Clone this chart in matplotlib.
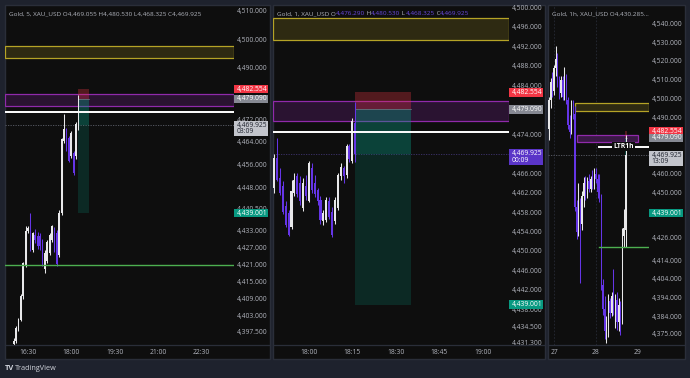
import matplotlib
matplotlib.use("Agg")
import matplotlib.pyplot as plt
import numpy as np
from matplotlib.patches import Rectangle
from matplotlib.lines import Line2D

plt.rcParams["font.family"] = ["Open Sans", "DejaVu Sans"]

W, H = 690, 378

# ---- 5 minute candles (minutes after 16:00) ----
m5_time = [0, 5, 10, 15, 20, 25, 30, 35, 40, 45, 50, 55, 60, 65,
           70, 75, 80, 85, 90, 95, 100, 105, 110, 115, 120, 125, 130, 135]
m5_open = [4392.9, 4394.0, 4398.0, 4401.6, 4409.8, 4420.9, 4432.7, 4433.2, 4426.2, 4431.5,
           4431.0, 4430.9, 4428.6, 4419.5, 4422.1, 4425.0, 4429.7, 4433.2, 4432.1, 4424.4,
           4439.1, 4464.3, 4468.5, 4465.5, 4459.1, 4460.2, 4459.1, 4469.055]
m5_high = [4395.0, 4399.5, 4402.1, 4410.5, 4422.0, 4434.4, 4434.5, 4439.1, 4432.5, 4433.5,
           4432.5, 4432.1, 4430.0, 4426.2, 4429.7, 4432.1, 4435.0, 4434.0, 4433.0, 4440.0,
           4465.5, 4473.7, 4469.0, 4466.0, 4468.0, 4461.0, 4471.0, 4480.53]
m5_low = [4392.5, 4393.5, 4397.5, 4401.0, 4409.0, 4420.0, 4432.0, 4425.8, 4425.5, 4428.5,
          4426.5, 4426.0, 4420.5, 4418.0, 4421.5, 4424.4, 4429.0, 4425.5, 4420.5, 4423.5,
          4438.5, 4463.5, 4461.0, 4457.0, 4458.5, 4452.5, 4458.0, 4468.325]
m5_close = [4394.0, 4398.6, 4401.5, 4409.8, 4421.5, 4432.7, 4433.8, 4426.2, 4432.1, 4429.7,
            4427.4, 4427.4, 4420.9, 4425.0, 4429.0, 4431.5, 4434.4, 4426.2, 4421.0, 4439.1,
            4464.9, 4468.5, 4461.4, 4457.3, 4467.3, 4453.2, 4470.2, 4469.925]

# ---- 1 minute candles (minutes after 17:48) ----
m1_time = list(range(29))
m1_open = [4462.9, 4469.0, 4465.0, 4463.3, 4459.2, 4457.8, 4455.0, 4461.9, 4465.3, 4464.0,
           4458.8, 4463.3, 4460.2, 4467.0, 4464.0, 4462.6, 4460.5, 4456.1, 4456.4, 4460.2,
           4458.1, 4456.1, 4458.8, 4465.3, 4467.0, 4465.5, 4471.5, 4468.4, 4476.29]
m1_high = [4470.0, 4473.2, 4467.0, 4464.3, 4460.2, 4458.5, 4464.5, 4466.0, 4466.0, 4465.3,
           4465.0, 4465.5, 4468.5, 4468.0, 4465.5, 4463.0, 4461.2, 4458.5, 4461.0, 4461.0,
           4459.0, 4461.0, 4466.0, 4468.0, 4467.5, 4472.0, 4472.0, 4477.2, 4480.53]
m1_low = [4462.0, 4464.3, 4461.5, 4457.5, 4455.0, 4453.0, 4454.5, 4461.2, 4461.0, 4459.5,
          4458.3, 4460.5, 4460.0, 4462.0, 4461.0, 4459.5, 4455.5, 4455.4, 4456.0, 4456.5,
          4452.8, 4455.5, 4458.5, 4464.5, 4464.0, 4465.0, 4468.3, 4468.0, 4468.325]
m1_close = [4469.1, 4464.6, 4462.0, 4458.1, 4455.4, 4453.3, 4462.25, 4464.6, 4461.6, 4460.2,
            4463.97, 4461.2, 4468.0, 4462.6, 4461.6, 4460.2, 4456.4, 4457.8, 4460.5, 4457.0,
            4453.3, 4460.5, 4465.7, 4467.3, 4465.3, 4471.5, 4468.8, 4476.66, 4469.925]

# ---- 1 hour candles (hours after 27th 00:00) ----
h1_time = list(range(-3, 42))
h1_open = [4484, 4499, 4509, 4504, 4516, 4521, 4508, 4503, 4510, 4501, 4512, 4499, 4486, 4482, 4496,
           4492, 4442, 4429, 4444, 4433, 4448, 4455, 4449, 4456, 4452, 4457, 4454, 4460, 4457, 4457,
           4447, 4401, 4388, 4376, 4383, 4392, 4386, 4395, 4388, 4393, 4381, 4390, 4385, 4427, 4430.285]
h1_high = [4501, 4511, 4514, 4518, 4528, 4524, 4512, 4512, 4512, 4517, 4513, 4501, 4491, 4499, 4499,
           4496, 4446, 4455, 4447, 4451, 4458, 4459, 4458, 4460, 4459, 4462, 4463, 4463, 4460, 4460,
           4449, 4404, 4395, 4384, 4396, 4394, 4397, 4409, 4396, 4397, 4394, 4392, 4431, 4441, 4480.53]
h1_low = [4478, 4495, 4501, 4502, 4512, 4506, 4500, 4501, 4499, 4499, 4497, 4484, 4479, 4481, 4489,
          4440, 4425, 4427, 4402, 4430, 4442, 4446, 4447, 4450, 4450, 4452, 4452, 4455, 4447, 4445,
          4398, 4385, 4372, 4369.7, 4373, 4383, 4384, 4385, 4378, 4377, 4376, 4374, 4380, 4421, 4421]
h1_close = [4499, 4509, 4504, 4516, 4521, 4508, 4503, 4510, 4501, 4512, 4499, 4486, 4482, 4496, 4492,
            4442, 4429, 4444, 4433, 4448, 4455, 4449, 4456, 4452, 4457, 4454, 4460, 4457, 4450, 4447,
            4401, 4388, 4376, 4380, 4392, 4386, 4395, 4388, 4393, 4381, 4390, 4385, 4427, 4431, 4469.925]

# ---- levels and labels ----
yellow_zone = (4493.4, 4497.8)
purple_zone = (4476.7, 4480.8)
ltr_level = 4474.4
support_level = 4420.8
stop_price = 4482.554
entry_price = 4479.090
last_price = 4469.925
target_price = 4439.001

m5_yticks = [4510, 4500, 4490, 4472, 4464, 4456, 4448, 4440.5, 4433, 4427, 4421, 4415, 4409, 4403, 4397.5]
m1_yticks = [4500, 4496, 4492, 4488, 4484, 4474, 4466, 4462, 4458, 4454, 4450, 4446, 4442, 4438, 4434.5, 4431.3]
h1_yticks = [4540, 4530, 4520, 4510, 4500, 4490, 4460, 4450, 4426, 4414, 4404, 4394, 4384, 4375]
m5_xticks, m5_xlabels = [30, 120, 210, 300, 390], ["16:30", "18:00", "19:30", "21:00", "22:30"]
m1_xticks, m1_xlabels = [12, 27, 42, 57, 72], ["18:00", "18:15", "18:30", "18:45", "19:00"]
h1_xticks, h1_xlabels = [0, 24, 48], ["27", "28", "29"]

BG = "#1e222d"
PANEL = "#0e0e0e"
BORDER = "#2a2e39"
TXT = "#b2b5be"
UP = "#e8e8ea"
DOWN = "#6535e6"
FS = 4.9

panels = [
    dict(panel=(5, 5, 270, 359), plot=(5, 5, 234, 345), ylim=(4392.7, 4512.1), xlim=(-17.8, 458.3),
         t=m5_time, o=m5_open, h=m5_high, l=m5_low, c=m5_close, step=5,
         yt=m5_yticks, xt=m5_xticks, xl=m5_xlabels, box=(134, 157), countdown="03:09",
         last_fc="#c3c5cc", last_tc="#1e222d", dot="#5d606b"),
    dict(panel=(273, 5, 545, 359), plot=(273, 5, 509, 345), ylim=(4430.7, 4500.5), xlim=(-0.4, 81.1),
         t=m1_time, o=m1_open, h=m1_high, l=m1_low, c=m1_close, step=1,
         yt=m1_yticks, xt=m1_xticks, xl=m1_xlabels, box=(28, 47.3), countdown="00:09",
         last_fc="#5a35c8", last_tc="#ffffff", dot="#3f3470"),
    dict(panel=(548, 5, 685, 359), plot=(548, 5, 649, 345), ylim=(4368.8, 4549.8), xlim=(-3.43, 54.3),
         t=h1_time, o=h1_open, h=h1_high, l=h1_low, c=h1_close, step=1,
         yt=h1_yticks, xt=h1_xticks, xl=h1_xlabels, box=(40.5, 41.6), countdown="13:09",
         last_fc="#c3c5cc", last_tc="#1e222d", dot="#5d606b"),
]


def fx(px):
    return px / W


def fy(py):
    return 1 - py / H


fig = plt.figure(figsize=(W / 100, H / 100), dpi=100, facecolor=BG)

for k, p in enumerate(panels):
    x0, y0, x1, y1 = p["panel"]
    px0, py0, px1, py1 = p["plot"]
    fig.add_artist(Rectangle((fx(x0), fy(y1)), (x1 - x0) / W, (y1 - y0) / H,
                             transform=fig.transFigure, fc=PANEL, ec=BORDER, lw=1.0, zorder=-1))
    ax = fig.add_axes([fx(px0), fy(py1), (px1 - px0) / W, (py1 - py0) / H])
    ax.patch.set_alpha(0)
    for s in ax.spines.values():
        s.set_visible(False)
    fig.add_artist(Line2D([fx(x0), fx(x1)], [fy(py1), fy(py1)], transform=fig.transFigure,
                          color=BORDER, lw=0.9, zorder=3))
    ax.set_xlim(*p["xlim"])
    ax.set_ylim(*p["ylim"])
    ymin, ymax = p["ylim"]
    ppu = (py1 - py0) / (ymax - ymin)
    pw = px1 - px0

    # zones and lines
    if k < 2:
        zx = p["xlim"]
        lx = p["xlim"]
        pz = p["xlim"]
    else:
        zx = (12, p["xlim"][1])
        pz = (13, 48.2)
        lx = (26, p["xlim"][1])
        for d in h1_xticks[:2]:
            ax.axvline(d, color="#262a35", lw=0.6, ls=(0, (2, 2)), zorder=0)
    ax.add_patch(Rectangle((zx[0], yellow_zone[0]), zx[1] - zx[0], yellow_zone[1] - yellow_zone[0],
                           fc="#2e2a12", ec="#b5a326", lw=0.9, zorder=1))
    pur_fc = "#2a1331" if k < 2 else "#3a1846"
    ax.add_patch(Rectangle((pz[0], purple_zone[0]), pz[1] - pz[0], purple_zone[1] - purple_zone[0],
                           fc=pur_fc, ec="#902aab", lw=0.9, zorder=1))
    ax.plot(lx, [ltr_level, ltr_level], color="white", lw=1.4, zorder=4)
    ax.plot(lx, [support_level, support_level], color="#4caf50", lw=1.0, zorder=4)
    ax.axhline(last_price, color=p["dot"], lw=0.6, ls=(0, (1.5, 1.5)), zorder=1)

    # position box
    bx0, bx1 = p["box"]
    ax.add_patch(Rectangle((bx0, entry_price), bx1 - bx0, stop_price - entry_price,
                           fc="#f23645", alpha=0.3, ec="none", zorder=2))
    ax.add_patch(Rectangle((bx0, last_price), bx1 - bx0, entry_price - last_price,
                           fc="#089981", alpha=0.38, ec="none", zorder=2))
    ax.add_patch(Rectangle((bx0, target_price), bx1 - bx0, last_price - target_price,
                           fc="#089981", alpha=0.2, ec="none", zorder=2))
    ax.plot([bx0, bx1], [entry_price, entry_price], color="#787b86", lw=0.5, zorder=2)

    # candles
    t = np.array(p["t"], dtype=float)
    o = np.array(p["o"])
    c = np.array(p["c"])
    up = c >= o
    cols = np.where(up, UP, DOWN)
    ax.vlines(t, p["l"], p["h"], colors=cols, lw=0.75, zorder=3)
    body = np.maximum(np.abs(c - o), 1.0 / ppu)
    ax.bar(t, body, bottom=np.minimum(o, c), width=0.72 * p["step"], color=cols, lw=0, zorder=3)

    # axes ticks
    ax.yaxis.tick_right()
    ax.set_yticks(p["yt"])
    ax.set_yticklabels([f"{v:,.3f}" for v in p["yt"]])
    ax.tick_params(axis="y", length=0, pad=2.0, labelsize=FS, labelcolor=TXT)
    ax.set_xticks(p["xt"])
    ax.set_xticklabels(p["xl"])
    ax.tick_params(axis="x", length=0, pad=3.0, labelsize=FS, labelcolor=TXT)

    # price tags on the scale
    tr = ax.get_yaxis_transform()
    tag_w = (x1 - px1 - 2) / pw

    def tag(price, text, fc, tc, up_px=4.3, down_px=4.3, text2=None):
        ax.add_patch(Rectangle((1.0, price - down_px / ppu), tag_w, (up_px + down_px) / ppu,
                               transform=tr, fc=fc, ec="none", clip_on=False, zorder=6))
        ax.text(1.0 + 2.5 / pw, price, text, transform=tr, ha="left", va="center",
                fontsize=FS, color=tc, clip_on=False, zorder=7)
        if text2:
            ax.text(1.0 + 2.5 / pw, price - 6.8 / ppu, text2, transform=tr, ha="left", va="center",
                    fontsize=FS, color=tc, clip_on=False, zorder=7)

    tag(stop_price, f"{stop_price:,.3f}", "#f23645", "white")
    tag(entry_price, f"{entry_price:,.3f}", "#868993", "white")
    tag(last_price, f"{last_price:,.3f}", p["last_fc"], p["last_tc"], up_px=4.5, down_px=11,
        text2=p["countdown"])
    tag(target_price, f"{target_price:,.3f}", "#089981", "white")

    if k == 2:
        ax.text(39.7, ltr_level, "LTR1h", color="white", fontsize=FS, fontweight="bold",
                ha="center", va="center", zorder=5,
                bbox=dict(boxstyle="square,pad=0.15", fc=PANEL, ec="none"))

# headers
renderer = fig.canvas.get_renderer()


def header(x_px, y_px, parts):
    x = x_px
    for s, col in parts:
        tx = fig.text(fx(x), fy(y_px), s, color=col, fontsize=4.6, ha="left", va="center")
        x += tx.get_window_extent(renderer=renderer).width


VAL = "#6a4ae0"
header(9, 13.5, [("Gold, 5, XAU_USD O4,469.055 H4,480.530 L4,468.325 C4,469.925", TXT)])
header(277, 13.5, [("Gold, 1, XAU_USD O", TXT), ("4,476.290", VAL), (" H", TXT), ("4,480.530", VAL),
                   (" L", TXT), ("4,468.325", VAL), (" C", TXT), ("4,469.925", VAL)])
header(552, 13.5, [("Gold, 1h, XAU_USD O4,430.285...", TXT)])

fig.text(fx(5), fy(369), "TV", color="#d1d4dc", fontsize=5.4, fontweight="bold", ha="left", va="center")
fig.text(fx(15), fy(369), "TradingView", color="#d1d4dc", fontsize=5.2, ha="left", va="center")

fig.savefig("out.png", dpi=100, facecolor=BG)
